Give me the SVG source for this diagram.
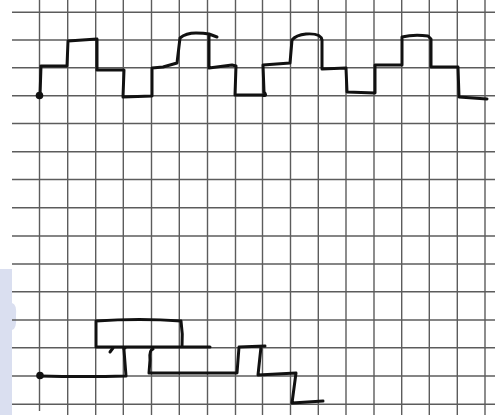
<svg xmlns="http://www.w3.org/2000/svg" width="495" height="415" viewBox="0 0 495 415">
<style>
.grid line{stroke:#5c5c5c;stroke-width:1.4}
.ink{fill:none;stroke:#111;stroke-width:3;stroke-linejoin:round;stroke-linecap:round}
.dot{fill:#111}
</style>
<rect x="0" y="0" width="495" height="415" fill="#fff"/>
<g id="watermark" fill="#dadff0">
<rect x="0" y="269" width="12" height="146"/>
<path d="M12,303 Q17,304 16,316 Q17,329 12,330 Z"/>
</g>
<g id="grid" class="grid">
<line x1="39.5" y1="0" x2="39.5" y2="411"/>
<line x1="67.7" y1="0" x2="67.7" y2="415"/>
<line x1="95.7" y1="0" x2="95.7" y2="415"/>
<line x1="123.3" y1="0" x2="123.3" y2="415"/>
<line x1="151.5" y1="0" x2="151.5" y2="415"/>
<line x1="179.3" y1="0" x2="179.3" y2="415"/>
<line x1="207.5" y1="0" x2="207.5" y2="415"/>
<line x1="235.5" y1="0" x2="235.5" y2="415"/>
<line x1="262.5" y1="0" x2="262.5" y2="415"/>
<line x1="290.5" y1="0" x2="290.5" y2="415"/>
<line x1="318.3" y1="0" x2="318.3" y2="415"/>
<line x1="346" y1="0" x2="346" y2="415"/>
<line x1="374" y1="0" x2="374" y2="415"/>
<line x1="401.7" y1="0" x2="401.7" y2="415"/>
<line x1="429.3" y1="0" x2="429.3" y2="415"/>
<line x1="457.3" y1="0" x2="457.3" y2="415"/>
<line x1="485" y1="0" x2="485" y2="415"/>
<line x1="12" y1="12.3" x2="495" y2="12.3"/>
<line x1="12" y1="40" x2="495" y2="40"/>
<line x1="12" y1="67.7" x2="495" y2="67.7"/>
<line x1="12" y1="95.7" x2="495" y2="95.7"/>
<line x1="12" y1="123.5" x2="495" y2="123.5"/>
<line x1="12" y1="151.7" x2="495" y2="151.7"/>
<line x1="12" y1="179.5" x2="495" y2="179.5"/>
<line x1="12" y1="207.7" x2="495" y2="207.7"/>
<line x1="12" y1="236" x2="495" y2="236"/>
<line x1="12" y1="264" x2="495" y2="264"/>
<line x1="12" y1="291.8" x2="495" y2="291.8"/>
<line x1="12" y1="320" x2="495" y2="320"/>
<line x1="12" y1="347.8" x2="495" y2="347.8"/>
<line x1="12" y1="376" x2="495" y2="376"/>
<line x1="12" y1="404.2" x2="495" y2="404.2"/>
</g>
<g id="top-wave">
<circle class="dot" cx="39.5" cy="95.5" r="3.8"/>
<path class="ink" d="M40,96 L41,66 L67,66 L68,41 L97,39 L97,70 L124,70 L123,97 L152,96 L152,68 L163,67 L177,63 L180,38 Q186,33 196,33 Q204,33 209,34 L217,37 M209,35 L209,68 L232,65 L236,66 L235,95 L262,95 Q268,97 264,92 L263,65 L290,63 L292,40 Q296,35 306,34 Q321,33 322,40 L322,69 L346,68 L347,92 L375,93 L375,65 L402,65 L402,37 Q414,34 428,36 L431,39 L431,67 L458,67 L459,97 L487,99"/>
</g>
<g id="bottom-wave">
<circle class="dot" cx="40" cy="375.5" r="3.8"/>
<path class="ink" d="M40,376 Q85,377 126,376 L124,350 Q123,348 125,348"/>
<path class="ink" d="M96,347 L96,321 Q140,318 181,321 Q183,334 182,347 M96,347 L210,347"/>
<path class="ink" d="M153,349 Q149,350 150,360 L149,373 L237,373 L239,347 L265,346 M261,347 L258,375 L296,373 L292,403 L323,401"/>
<path class="ink" d="M110,352 L113,348" stroke-width="2"/>
</g>
</svg>
